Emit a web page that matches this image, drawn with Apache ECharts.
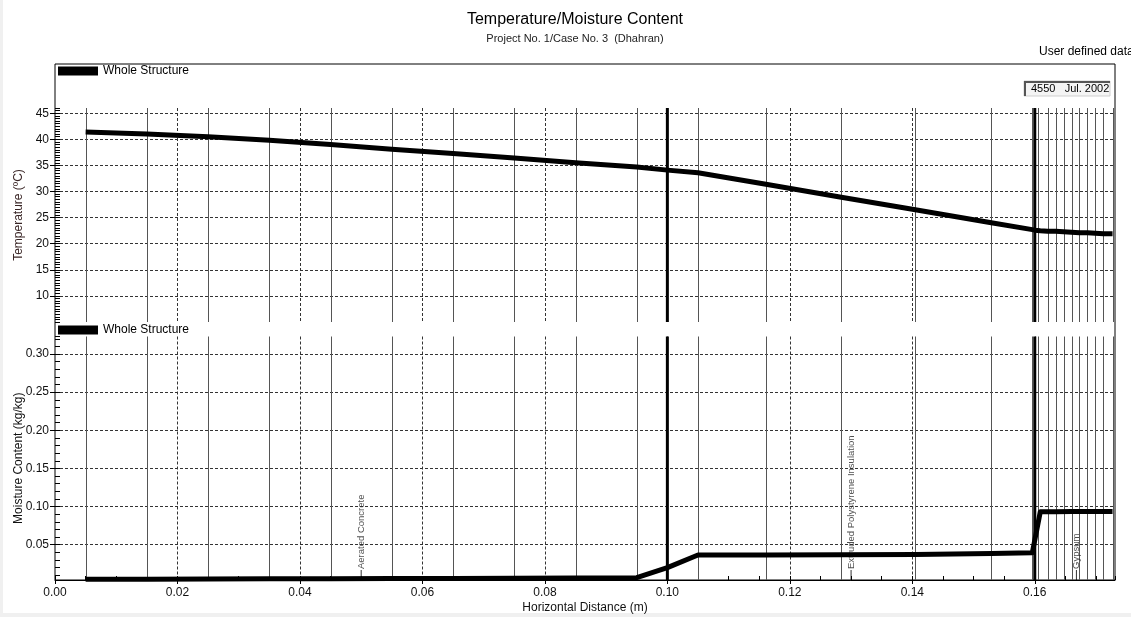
<!DOCTYPE html>
<html>
<head>
<meta charset="utf-8">
<title>Temperature/Moisture Content</title>
<script src="https://cdn.jsdelivr.net/npm/echarts@6/dist/echarts.min.js"></script>
<style>
  html, body { margin: 0; padding: 0; background: #f0f0f0; }
  #sheet { position: absolute; left: 3px; top: 0; width: 1128px; height: 613px; background: #ffffff; }
  #chart { position: absolute; left: 0; top: 0; width: 1131px; height: 617px; }
</style>
</head>
<body>
<div id="sheet"></div>
<div id="chart"></div>
<script>
// ---- profile data (distance in m) ----
const tempDist = [0.005, 0.015, 0.025, 0.035, 0.045, 0.055, 0.065, 0.075, 0.085, 0.095,
                  0.100, 0.105, 0.1161, 0.1284, 0.1405, 0.1529, 0.1596, 0.1600,
                  0.1609, 0.1621, 0.1634, 0.1647, 0.1660, 0.1673, 0.1686, 0.1699, 0.1712, 0.1727];
const temperature = [41.4, 41.0, 40.5, 39.8, 39.0, 38.1, 37.3, 36.4, 35.5, 34.7,
                     34.1, 33.6, 31.4, 28.9, 26.5, 24.0, 22.7, 22.6,
                     22.5, 22.4, 22.4, 22.3, 22.2, 22.1, 22.1, 22.0, 21.9, 21.9];

const moistDist = [0.005, 0.015, 0.025, 0.035, 0.045, 0.055, 0.065, 0.075, 0.085, 0.095,
                   0.100, 0.105, 0.1161, 0.1284, 0.1405, 0.1529, 0.1596,
                   0.1609, 0.1634, 0.1660, 0.1686, 0.1712, 0.1727];
const moisture = [0.0046, 0.0048, 0.0050, 0.0052, 0.0054, 0.0056, 0.0058, 0.0061, 0.0064, 0.0068,
                  0.0200, 0.0365, 0.0366, 0.0367, 0.0372, 0.0383, 0.0395,
                  0.0933, 0.0933, 0.0934, 0.0934, 0.0935, 0.0935];

// numerical grid element boundaries and material layer boundaries
const elementDist = [0.005, 0.015, 0.025, 0.035, 0.045, 0.055, 0.065, 0.075, 0.085, 0.095,
                     0.105, 0.1161, 0.1284, 0.1405, 0.1529, 0.1596,
                     0.1606, 0.1621, 0.1634, 0.1647, 0.1660, 0.1673, 0.1686, 0.1699, 0.1712, 0.1727];
const layerBounds = [0.100, 0.160];

// material layers
const layerNames = ['Aerated Concrete', 'Extruded Polystyrene Insulation', 'Gypsum'];
const layerMid = [0.050, 0.130, 0.1668];

// axis ranges
const X_MAX = 0.1731;
const T_MIN = 5, T_MAX = 46;
const M_MIN = 0.0037, M_MAX = 0.323;

const FONT = '"Liberation Sans", Arial, sans-serif';
const TXT = '#111';

function dashed() {
  return { show: true, showMinLine: false, showMaxLine: false,
           lineStyle: { color: '#333', width: 1, type: [3, 2] } };
}

// vertical boundary lines spanning a panel, placed through the panel's own axes
function boundarySeries(xi, yi, yMin, yMax) {
  const data = elementDist.map(x => [x, 1]).concat(layerBounds.map(x => [x, 3]));
  return {
    type: 'custom', xAxisIndex: xi, yAxisIndex: yi, z: 2, silent: true,
    data: data,
    encode: { x: 0 },
    renderItem: function (params, api) {
      const x = api.value(0);
      const w = api.value(1);
      const p0 = api.coord([x, yMax]);
      const p1 = api.coord([x, yMin]);
      const px = w === 1 ? Math.round(p0[0]) + 0.5 : p0[0];
      return {
        type: 'line',
        shape: { x1: px, y1: p0[1], x2: px, y2: p1[1] },
        style: { stroke: w === 1 ? '#555' : '#000', lineWidth: w }
      };
    }
  };
}

const chart = echarts.init(document.getElementById('chart'), null, { renderer: 'canvas' });

const gridBase = { left: 55, right: 16, containLabel: false, outerBoundsMode: 'none' };

const option = {
  animation: false,
  backgroundColor: 'transparent',
  textStyle: { fontFamily: FONT },
  graphic: [
    { type: 'text', x: 575, y: 20, style: { text: 'Temperature/Moisture Content', align: 'center', verticalAlign: 'middle', font: '16px ' + FONT, fill: '#000' } },
    { type: 'text', x: 575, y: 39, style: { text: 'Project No. 1/Case No. 3  (Dhahran)', align: 'center', verticalAlign: 'middle', font: '11px ' + FONT, fill: '#222' } },
    { type: 'text', x: 1039, y: 52, style: { text: 'User defined data', align: 'left', verticalAlign: 'middle', font: '12px ' + FONT, fill: '#000' } },
    { type: 'group', x: 1024, y: 81, children: [
      { type: 'rect', shape: { x: 0, y: 0, width: 86, height: 15 }, style: { fill: '#f4f4f4', stroke: '#cfcfcf', lineWidth: 1 } },
      { type: 'polyline', shape: { points: [[1, 15], [1, 1], [86, 1]] }, style: { stroke: '#555', lineWidth: 2, fill: null } },
      { type: 'text', x: 7, y: 8, style: { text: '4550   Jul. 2002', align: 'left', verticalAlign: 'middle', font: '11px ' + FONT, fill: '#000' } }
    ] }
  ],
  legend: [
    { data: [{ name: 'Whole Structure', icon: 'rect' }], left: 58, top: 65, padding: 0,
      itemWidth: 40, itemHeight: 9, itemGap: 0, selectedMode: false,
      textStyle: { fontSize: 12, color: '#000', fontFamily: FONT } },
    { data: [{ name: 'Whole Structure', icon: 'rect' }], left: 58, top: 324, padding: 0,
      itemWidth: 40, itemHeight: 9, itemGap: 0, selectedMode: false,
      textStyle: { fontSize: 12, color: '#000', fontFamily: FONT } }
  ],
  grid: [
    Object.assign({ top: 108, height: 214 }, gridBase),
    Object.assign({ top: 336.5, height: 243.5 }, gridBase),
    Object.assign({ top: 64, height: 516, show: true, borderColor: '#000', borderWidth: 1, backgroundColor: 'transparent' }, gridBase)
  ],
  xAxis: [
    { gridIndex: 0, type: 'value', position: 'bottom', min: 0, max: X_MAX, interval: 0.02,
      axisLine: { show: false }, axisTick: { show: false }, axisLabel: { show: false }, splitLine: dashed() },
    { gridIndex: 1, type: 'value', position: 'bottom', min: 0, max: X_MAX, interval: 0.02,
      axisLine: { show: true, onZero: false, lineStyle: { color: '#000', width: 1 } },
      axisTick: { show: true, length: 4, lineStyle: { color: '#000' } },
      axisLabel: { show: true, margin: 7, fontSize: 12, color: TXT, showMaxLabel: false, formatter: v => v.toFixed(2) },
      splitLine: dashed(),
      name: 'Horizontal Distance (m)', nameLocation: 'middle', nameGap: 22, nameMoveOverlap: false,
      nameTextStyle: { fontSize: 12, color: TXT } },
    { gridIndex: 1, type: 'value', position: 'bottom', offset: 0, min: 0, max: X_MAX, interval: 0.005,
      axisLine: { show: false, onZero: false }, axisLabel: { show: false }, splitLine: { show: false },
      axisTick: { show: true, inside: true, length: 4, lineStyle: { color: '#000' } } },
    { gridIndex: 2, type: 'value', show: false, min: 0, max: 1 }
  ],
  yAxis: [
    { gridIndex: 0, type: 'value', position: 'left', min: T_MIN, max: T_MAX, interval: 5,
      axisLine: { show: false },
      axisTick: { show: true, length: 5, lineStyle: { color: '#000' } },
      axisLabel: { margin: 6, fontSize: 12, color: TXT, showMinLabel: false, showMaxLabel: false },
      splitLine: dashed(),
      name: 'Temperature (ºC)', nameLocation: 'middle', nameGap: 30, nameMoveOverlap: false,
      nameTextStyle: { fontSize: 12, color: '#3a2626' } },
    { gridIndex: 0, type: 'value', position: 'left', offset: 0, min: T_MIN, max: T_MAX, interval: 0.5,
      axisLine: { show: false, onZero: false }, axisLabel: { show: false }, splitLine: { show: false },
      axisTick: { show: true, inside: true, length: 5, lineStyle: { color: '#000' } } },
    { gridIndex: 1, type: 'value', position: 'left', min: M_MIN, max: M_MAX, minInterval: 0.05, maxInterval: 0.05,
      axisLine: { show: false },
      axisTick: { show: true, length: 5, lineStyle: { color: '#000' } },
      axisLabel: { margin: 6, fontSize: 12, color: TXT, showMinLabel: false, showMaxLabel: false, formatter: v => v.toFixed(2) },
      splitLine: dashed(),
      name: 'Moisture Content (kg/kg)', nameLocation: 'middle', nameGap: 30, nameMoveOverlap: false,
      nameTextStyle: { fontSize: 12, color: TXT } },
    { gridIndex: 1, type: 'value', position: 'left', offset: 0, min: M_MIN, max: M_MAX, minInterval: 0.01, maxInterval: 0.01,
      axisLine: { show: false, onZero: false }, axisLabel: { show: false }, splitLine: { show: false },
      axisTick: { show: true, inside: true, length: 5, lineStyle: { color: '#000' } } },
    { gridIndex: 2, type: 'value', show: false, min: 0, max: 1 }
  ],
  series: [
    boundarySeries(0, 0, T_MIN, T_MAX),
    boundarySeries(1, 2, M_MIN, M_MAX),
    // material layer names
    { type: 'scatter', name: 'layers', xAxisIndex: 1, yAxisIndex: 2, z: 3, silent: true,
      data: layerMid.map((x, i) => ({ name: layerNames[i], value: [x, M_MIN] })),
      symbol: 'rect', symbolSize: [1, 10], symbolOffset: [0, -5], itemStyle: { color: '#000' },
      label: { show: true, formatter: '{b}', position: 'top', distance: 1, rotate: 90,
               align: 'left', verticalAlign: 'middle', fontSize: 9.5, color: '#222', fontFamily: FONT } },
    { type: 'line', name: 'Whole Structure', xAxisIndex: 0, yAxisIndex: 0, z: 5,
      data: tempDist.map((x, i) => [x, temperature[i]]),
      symbol: 'none', showSymbol: false, color: '#000',
      lineStyle: { color: '#000', width: 5, join: 'round' }, itemStyle: { color: '#000' } },
    { type: 'line', name: 'Whole Structure', xAxisIndex: 1, yAxisIndex: 2, z: 5,
      data: moistDist.map((x, i) => [x, moisture[i]]),
      symbol: 'none', showSymbol: false, color: '#000', clip: false,
      lineStyle: { color: '#000', width: 5, join: 'round' }, itemStyle: { color: '#000' } }
  ]
};

chart.setOption(option);
</script>
</body>
</html>
